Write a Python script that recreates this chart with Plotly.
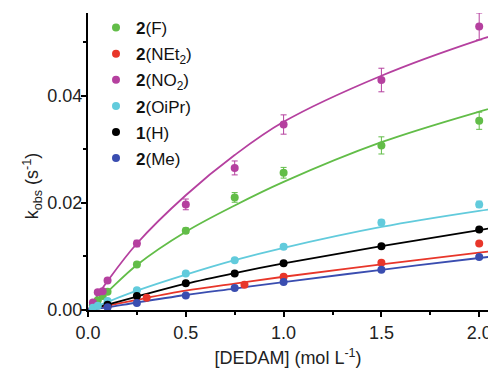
import plotly.graph_objects as go

# ---------------- data ----------------
names = ["<b>2</b>(F)", "<b>2</b>(NEt<sub>2</sub>)", "<b>2</b>(NO<sub>2</sub>)",
         "<b>2</b>(OiPr)", "<b>1</b>(H)", "<b>2</b>(Me)"]
colors = ["#62bd48", "#e8362a", "#b5409f", "#62cbdc", "#000000", "#3a4db0"]

# measured points
x_F = [0.025, 0.05, 0.075, 0.1, 0.25, 0.5, 0.75, 1.0, 1.5, 2.0]
y_F = [0.0009, 0.0018, 0.0026, 0.0034, 0.0085, 0.0148, 0.0210, 0.0256, 0.0307, 0.0353]
e_F = [0.0001, 0.0002, 0.0002, 0.0003, 0.0004, 0.0005, 0.0009, 0.0010, 0.0016, 0.0016]

x_NEt2 = [0.1, 0.3, 0.8, 1.0, 1.5, 2.0]
y_NEt2 = [0.0007, 0.0023, 0.0047, 0.0062, 0.0088, 0.0124]
e_NEt2 = [0.0001, 0.0002, 0.0002, 0.0003, 0.0003, 0.0003]

x_NO2 = [0.025, 0.05, 0.075, 0.1, 0.25, 0.5, 0.75, 1.0, 1.5, 2.0]
y_NO2 = [0.0014, 0.0033, 0.0035, 0.0055, 0.0124, 0.0197, 0.0265, 0.0346, 0.0429, 0.0529]
e_NO2 = [0.0002, 0.0003, 0.0003, 0.0004, 0.0006, 0.0010, 0.0013, 0.0018, 0.0022, 0.0025]

x_OiPr = [0.025, 0.05, 0.1, 0.25, 0.5, 0.75, 1.0, 1.5, 2.0]
y_OiPr = [0.0004, 0.0008, 0.0017, 0.0037, 0.0068, 0.0093, 0.0118, 0.0163, 0.0197]
e_OiPr = [0.0001, 0.0001, 0.0002, 0.0002, 0.0003, 0.0003, 0.0004, 0.0005, 0.0006]

x_H = [0.1, 0.25, 0.5, 0.75, 1.0, 1.5, 2.0]
y_H = [0.0010, 0.0026, 0.0050, 0.0068, 0.0087, 0.0119, 0.0150]
e_H = [0.0001, 0.0002, 0.0002, 0.0002, 0.0003, 0.0003, 0.0004]

x_Me = [0.1, 0.25, 0.5, 0.75, 1.0, 1.5, 2.0]
y_Me = [0.0005, 0.0013, 0.0027, 0.0041, 0.0052, 0.0075, 0.0099]
e_Me = [0.0001, 0.0001, 0.0002, 0.0002, 0.0002, 0.0003, 0.0003]

# fitted curves
fit_x = [0.0, 0.1, 0.25, 0.5, 0.75, 1.0, 1.5, 2.0, 2.1]
fit_F = [0.0, 0.0034, 0.0084, 0.0146, 0.0195, 0.0239, 0.0313, 0.0370, 0.0380]
fit_NEt2 = [0.0, 0.0008, 0.0019, 0.0036, 0.0049, 0.0062, 0.0085, 0.0107, 0.0111]
fit_NO2 = [0.0, 0.0054, 0.0124, 0.0214, 0.0289, 0.0351, 0.0437, 0.0504, 0.0515]
fit_OiPr = [0.0, 0.0015, 0.0036, 0.0066, 0.0093, 0.0116, 0.0155, 0.0185, 0.0190]
fit_H = [0.0, 0.0010, 0.0025, 0.0049, 0.0069, 0.0087, 0.0119, 0.0149, 0.0155]
fit_Me = [0.0, 0.0005, 0.0014, 0.0028, 0.0040, 0.0052, 0.0075, 0.0097, 0.0101]

x_ticks = [0.0, 0.5, 1.0, 1.5, 2.0]
y_ticks = [0.00, 0.02, 0.04]

series = [
    (x_F, y_F, e_F, fit_F),
    (x_NEt2, y_NEt2, e_NEt2, fit_NEt2),
    (x_NO2, y_NO2, e_NO2, fit_NO2),
    (x_OiPr, y_OiPr, e_OiPr, fit_OiPr),
    (x_H, y_H, e_H, fit_H),
    (x_Me, y_Me, e_Me, fit_Me),
]

FONT = "Liberation Sans, Arial, sans-serif"

fig = go.Figure()
for i, (xs, ys, es, fy) in enumerate(series):
    fig.add_trace(go.Scatter(
        x=fit_x, y=fy, mode="lines", line=dict(color=colors[i], width=1.8, shape="spline"),
        showlegend=False, hoverinfo="skip", cliponaxis=True))
for i, (xs, ys, es, fy) in enumerate(series):
    fig.add_trace(go.Scatter(
        x=xs, y=ys, mode="markers", name=names[i], legendgroup=str(i),
        marker=dict(color=colors[i], size=8),
        error_y=dict(type="data", array=es, color=colors[i], thickness=1, width=3),
        cliponaxis=False))

fig.update_layout(
    width=488, height=373,
    margin=dict(l=88, r=0, t=13, b=63, autoexpand=False),
    paper_bgcolor="white", plot_bgcolor="white",
    font=dict(family=FONT, size=18, color="#222"),
    showlegend=True,
    legend=dict(x=0.02, y=1.01, xanchor="left", yanchor="top",
                bgcolor="rgba(0,0,0,0)", font=dict(size=17, color="#111"),
                tracegroupgap=1, itemwidth=30),
    xaxis=dict(range=[0, 2.045], tickvals=x_ticks, ticktext=[f"{v:.1f}" for v in x_ticks],
               ticklabeloverflow="allow", automargin=False,
               showline=True, linecolor="black", linewidth=2,
               ticks="outside", ticklen=5, tickwidth=2, tickcolor="black",
               minor=dict(dtick=0.25, ticks="outside", ticklen=3, tickwidth=1.5, tickcolor="black"),
               showgrid=False, zeroline=False,
               title=dict(text="[DEDAM] (mol L<sup>-1</sup>)", font=dict(size=18), standoff=10)),
    yaxis=dict(range=[0, 0.0554], tickvals=y_ticks, ticktext=[f"{v:.2f}" for v in y_ticks],
               ticklabelstandoff=-5, automargin=False,
               showline=True, linecolor="black", linewidth=2,
               ticks="outside", ticklen=5, tickwidth=2, tickcolor="black",
               minor=dict(dtick=0.01, ticks="outside", ticklen=3, tickwidth=1.5, tickcolor="black"),
               showgrid=False, zeroline=False),
    annotations=[dict(text="k<sub>obs</sub> (s<sup>-1</sup>)", xref="paper", yref="paper",
                      x=-0.14, y=0.42, textangle=-90, showarrow=False,
                      font=dict(size=18, color="#222"), xanchor="center", yanchor="middle")],
)

fig.write_html("out.html")
